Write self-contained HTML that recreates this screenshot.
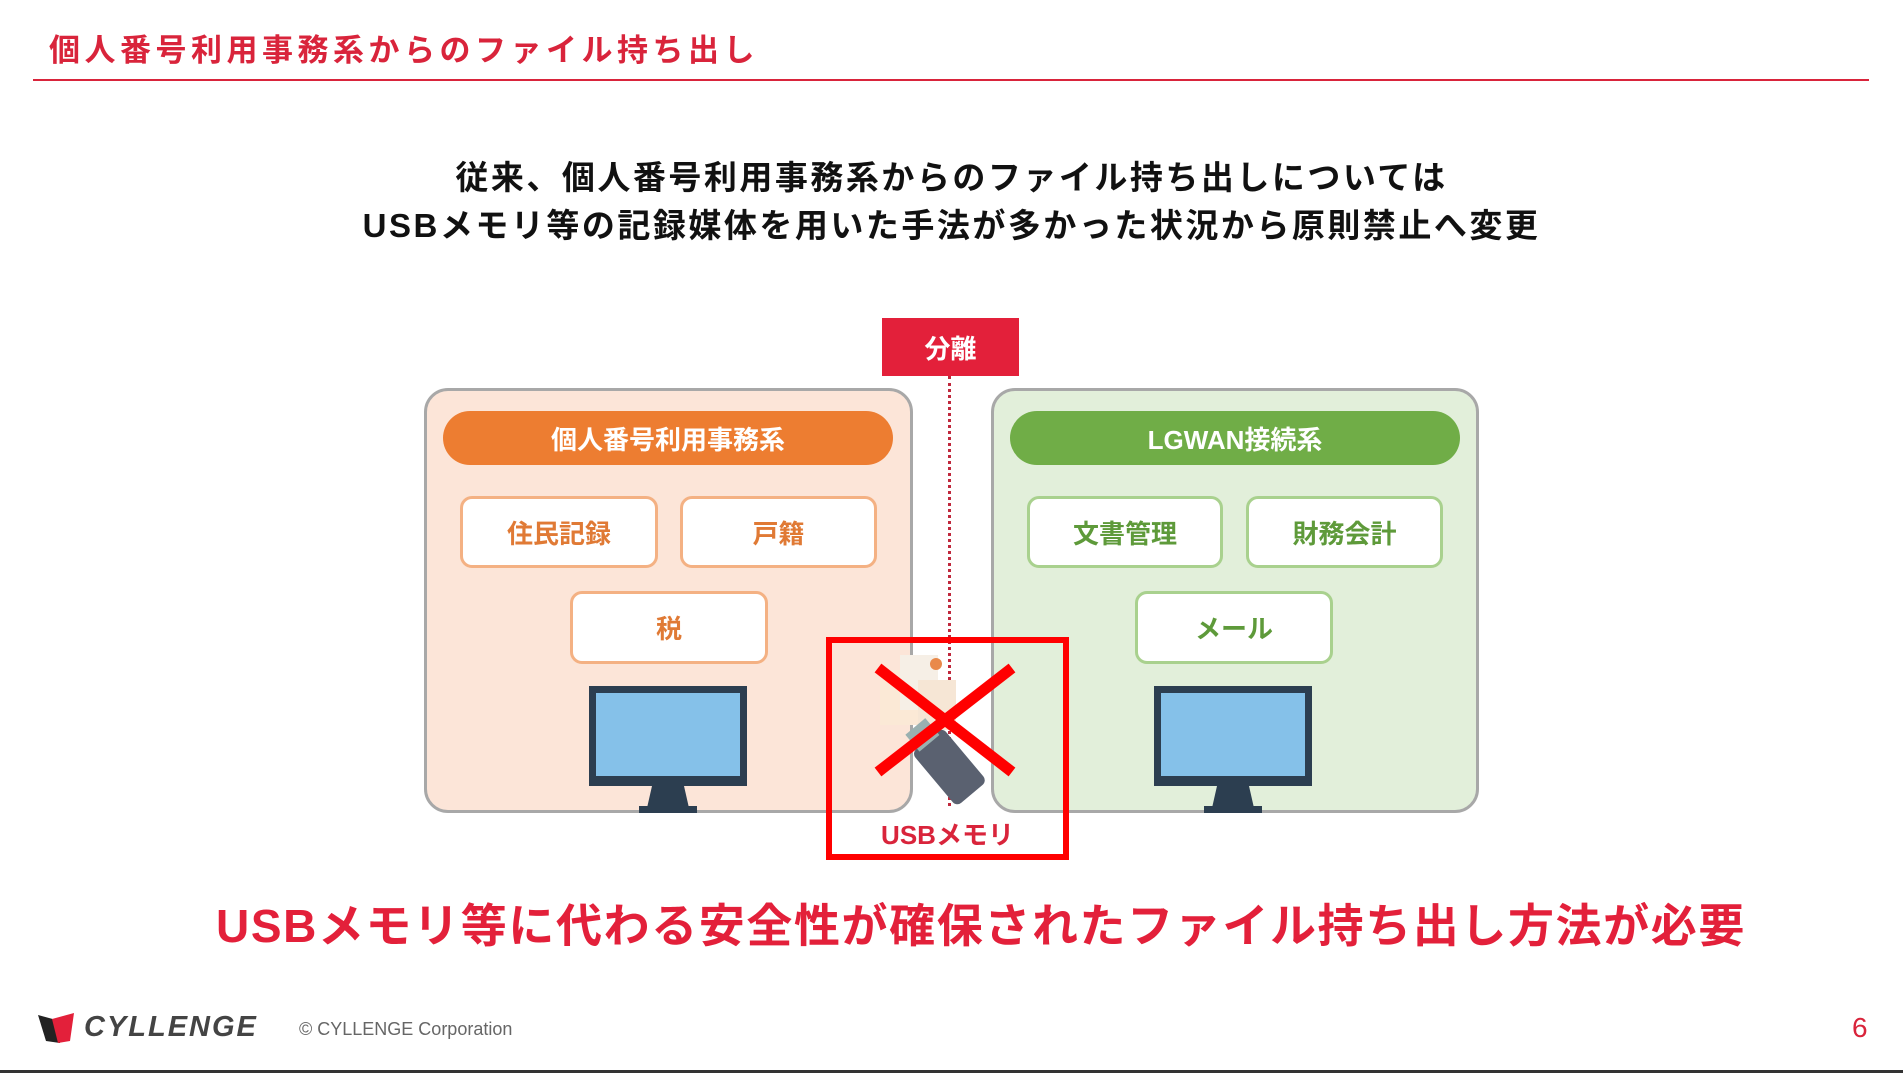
<!DOCTYPE html>
<html><head><meta charset="utf-8"><style>
body{margin:0;width:1903px;height:1073px;background:#fff;position:relative;overflow:hidden;font-family:"Liberation Sans","Noto Sans CJK JP",sans-serif;}
.a{position:absolute;box-sizing:border-box;}
.c{display:flex;align-items:center;justify-content:center;font-weight:bold;}
.ob{background:#fff;border:3px solid #f4b183;border-radius:12px;color:#e07a35;font-size:26px;}
.gb{background:#fff;border:3px solid #a9d18e;border-radius:12px;color:#5e9a3a;font-size:26px;}
</style></head><body>
<div class="a" style="left:49px;top:25px;font-size:31px;font-weight:bold;color:#d9243b;letter-spacing:4.5px">個人番号利用事務系からのファイル持ち出し</div>
<div class="a" style="left:33px;top:79px;width:1836px;height:2px;background:#d9243b"></div>
<div class="a" style="left:0;top:154px;width:1903px;text-align:center;font-size:33px;font-weight:bold;line-height:48px;color:#111;letter-spacing:2.5px">従来、個人番号利用事務系からのファイル持ち出しについては<br>USBメモリ等の記録媒体を用いた手法が多かった状況から原則禁止へ変更</div>

<div class="a" style="left:424px;top:388px;width:489px;height:425px;background:#fce5d8;border:3px solid #a8a8a8;border-radius:24px"></div>
<div class="a" style="left:991px;top:388px;width:488px;height:425px;background:#e2efda;border:3px solid #a8a8a8;border-radius:24px"></div>
<div class="a c" style="left:443px;top:411px;width:450px;height:54px;background:#ed7d31;border-radius:27px;color:#fff;font-size:26px">個人番号利用事務系</div>
<div class="a c" style="left:1010px;top:411px;width:450px;height:54px;background:#70ad47;border-radius:27px;color:#fff;font-size:26px">LGWAN接続系</div>
<div class="a c ob" style="left:460px;top:496px;width:198px;height:72px">住民記録</div>
<div class="a c ob" style="left:680px;top:496px;width:197px;height:72px">戸籍</div>
<div class="a c ob" style="left:570px;top:591px;width:198px;height:73px">税</div>
<div class="a c gb" style="left:1027px;top:496px;width:196px;height:72px">文書管理</div>
<div class="a c gb" style="left:1246px;top:496px;width:197px;height:72px">財務会計</div>
<div class="a c gb" style="left:1135px;top:591px;width:198px;height:73px">メール</div>

<svg class="a" style="left:589px;top:686px" width="158" height="128"><rect x="0" y="0" width="158" height="100" fill="#2c3e50"/><rect x="7" y="7" width="144" height="83" fill="#85c1e9"/><polygon points="63,100 95,100 100,122 58,122" fill="#2c3e50"/><rect x="50" y="120" width="58" height="7" fill="#2c3e50"/></svg>
<svg class="a" style="left:1154px;top:686px" width="158" height="128"><rect x="0" y="0" width="158" height="100" fill="#2c3e50"/><rect x="7" y="7" width="144" height="83" fill="#85c1e9"/><polygon points="63,100 95,100 100,122 58,122" fill="#2c3e50"/><rect x="50" y="120" width="58" height="7" fill="#2c3e50"/></svg>

<div class="a" style="left:948px;top:376px;width:0;height:430px;border-left:3px dotted #c0283c"></div>
<div class="a c" style="left:882px;top:318px;width:137px;height:58px;background:#e3203a;color:#fff;font-size:26px">分離</div>

<svg class="a" style="left:870px;top:650px" width="160" height="160">
<rect x="10" y="20" width="40" height="55" fill="#fbe9d6"/><rect x="30" y="5" width="38" height="55" fill="#f6efe6"/><rect x="48" y="30" width="38" height="50" fill="#f6e6d5"/>
<circle cx="66" cy="14" r="6" fill="#e9894a"/>
<g transform="rotate(-40 80 110)"><rect x="55" y="80" width="40" height="70" rx="6" fill="#5a6170"/><rect x="62" y="62" width="26" height="22" fill="#9ab0b0"/></g>
</svg>
<svg class="a" style="left:870px;top:660px" width="150" height="120"><line x1="8" y1="8" x2="142" y2="112" stroke="#f00" stroke-width="11"/><line x1="142" y1="8" x2="8" y2="112" stroke="#f00" stroke-width="11"/></svg>
<div class="a" style="left:826px;top:637px;width:243px;height:223px;border:6px solid #f00"></div>
<div class="a" style="left:826px;top:815px;width:243px;text-align:center;font-size:26px;font-weight:bold;color:#d9243b">USBメモリ</div>

<div class="a" style="left:0;top:890px;width:1962px;text-align:center;font-size:46px;font-weight:bold;color:#e3203a;letter-spacing:1.6px">USBメモリ等に代わる安全性が確保されたファイル持ち出し方法が必要</div>

<svg class="a" style="left:38px;top:1013px" width="38" height="32"><polygon points="0,2 22,8 22,30 8,28" fill="#222"/><polygon points="14,6 36,0 32,28 20,30" fill="#e3203a"/></svg>
<div class="a" style="left:84px;top:1011px;font-size:29px;font-weight:bold;font-style:italic;color:#444;letter-spacing:2px">CYLLENGE</div>
<div class="a" style="left:299px;top:1019px;font-size:18px;color:#666">© CYLLENGE Corporation</div>
<div class="a" style="left:1852px;top:1012px;font-size:28px;color:#d9243b">6</div>
<div class="a" style="left:0;top:1070px;width:1903px;height:3px;background:#333"></div>
</body></html>
